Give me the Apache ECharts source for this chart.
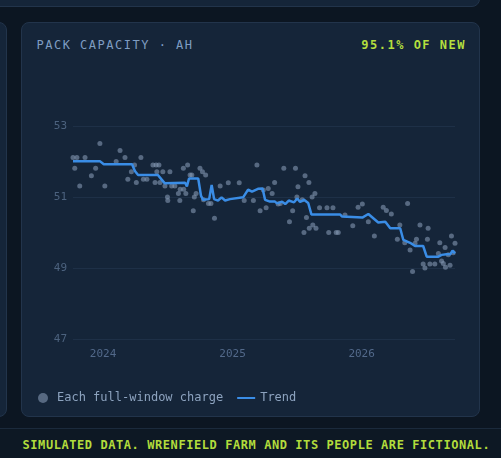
<!DOCTYPE html>
<html>
<head>
<meta charset="utf-8">
<script src="https://cdn.jsdelivr.net/npm/echarts@6/dist/echarts.min.js"></script>
<style>
  html, body { margin: 0; padding: 0; }
  body { width: 501px; height: 458px; background: #0c1622; position: relative; overflow: hidden; font-family: "DejaVu Sans Mono", monospace; }
  .card { position: absolute; box-sizing: border-box; background: #152539; border: 1px solid #22344b; border-radius: 8px; }
  .head { position: absolute; top: 38px; font-size: 12px; line-height: 14px; letter-spacing: 1.5px; white-space: nowrap; }
  #foot { position: absolute; left: 0; top: 428px; width: 501px; height: 30px; border-top: 1px solid #1b2a3c; background: #0d1824; }
  #foot span { position: absolute; left: 22.5px; top: 9px; font-size: 12px; line-height: 14px; letter-spacing: 0.57px; color: #b2dc3c; font-weight: bold; white-space: nowrap; }
  #main { position: absolute; left: 0; top: 0; width: 501px; height: 458px; }
</style>
</head>
<body>
<div class="card" style="left:-30px; top:-30px; width:510px; height:37px;"></div>
<div class="card" style="left:-200px; top:22px; width:207px; height:395px;"></div>
<div class="card" style="left:21px; top:22px; width:459px; height:395px;"></div>
<div class="head" style="left:36.5px; color:#7f9dc2;">PACK CAPACITY · AH</div>
<div class="head" style="right:35px; color:#b4df3e; font-weight:bold;">95.1% OF NEW</div>
<div id="foot"><span>SIMULATED DATA. WRENFIELD FARM AND ITS PEOPLE ARE FICTIONAL.</span></div>
<div id="main"></div>
<script>
// every full-window charge (date, measured capacity in Ah)
var chargeDates = [
  '2023-10-08', '2023-10-13', '2023-10-19', '2023-10-27', '2023-11-11', '2023-11-29', '2023-12-11', '2023-12-23',
  '2024-01-06', '2024-02-07', '2024-02-18', '2024-03-03', '2024-03-11', '2024-03-21', '2024-03-30', '2024-04-04',
  '2024-04-17', '2024-04-24', '2024-05-04', '2024-05-21', '2024-05-27', '2024-05-30', '2024-06-01', '2024-06-07',
  '2024-06-10', '2024-06-18', '2024-06-24', '2024-07-01', '2024-07-02', '2024-07-08', '2024-07-13', '2024-07-22',
  '2024-08-01', '2024-08-05', '2024-08-06', '2024-08-15', '2024-08-16', '2024-08-22', '2024-08-27', '2024-09-03',
  '2024-09-08', '2024-09-12', '2024-09-15', '2024-09-20', '2024-10-01', '2024-10-08', '2024-10-11', '2024-10-17',
  '2024-10-25', '2024-11-01', '2024-11-11', '2024-11-27', '2024-12-20', '2025-01-20', '2025-02-03', '2025-03-01',
  '2025-03-11', '2025-03-20', '2025-03-29', '2025-04-06', '2025-04-12', '2025-04-23', '2025-04-30', '2025-05-10',
  '2025-05-16', '2025-05-26', '2025-06-11', '2025-06-20', '2025-06-28', '2025-07-02', '2025-07-05', '2025-07-17',
  '2025-07-22', '2025-07-25', '2025-07-29', '2025-08-05', '2025-08-06', '2025-08-14', '2025-08-16', '2025-08-22',
  '2025-08-25', '2025-09-04', '2025-09-25', '2025-09-30', '2025-10-12', '2025-10-21', '2025-10-27', '2025-11-15',
  '2025-12-07', '2025-12-22', '2026-01-03', '2026-01-20', '2026-02-06', '2026-03-03', '2026-03-12', '2026-03-26',
  '2026-04-12', '2026-04-19', '2026-05-03', '2026-05-11', '2026-05-18', '2026-05-25', '2026-06-01', '2026-06-05',
  '2026-06-15', '2026-06-24', '2026-06-29', '2026-07-06', '2026-07-08', '2026-07-13', '2026-07-27', '2026-08-06',
  '2026-08-10', '2026-08-15', '2026-08-20', '2026-08-25', '2026-08-26', '2026-09-03', '2026-09-08', '2026-09-12',
  '2026-09-17', '2026-09-22'
];
var chargeAh = [
  52.11, 51.81, 52.11, 51.31, 52.11, 51.60, 51.81, 52.51,
  51.31, 52.00, 52.31, 52.11, 51.50, 51.71, 51.90, 51.41,
  52.11, 51.50, 51.50, 51.90, 51.41, 51.90, 51.71, 51.90,
  51.41, 51.71, 51.31, 51.00, 50.90, 51.71, 51.31, 51.31,
  51.10, 50.90, 51.22, 51.81, 51.22, 51.10, 51.90, 51.62,
  51.62, 50.61, 51.00, 51.10, 51.81, 51.71, 50.92, 51.62,
  50.82, 50.82, 50.40, 51.31, 51.40, 51.40, 50.90, 50.90,
  51.90, 50.61, 51.20, 50.70, 51.24, 51.10, 51.41, 50.80,
  50.82, 51.81, 50.30, 50.61, 51.81, 51.00, 51.29, 50.92,
  50.00, 51.60, 50.42, 51.41, 50.12, 51.00, 50.21, 51.10,
  50.12, 50.70, 50.70, 50.00, 50.70, 50.00, 50.00, 50.49,
  50.19, 50.71, 50.80, 50.30, 49.90, 50.71, 50.62, 50.52,
  49.81, 50.21, 49.71, 50.82, 49.51, 48.90, 49.70, 49.81,
  50.21, 49.11, 49.00, 49.81, 50.12, 49.11, 49.11, 49.41,
  49.71, 49.20, 49.13, 49.58, 49.02, 49.37, 49.08, 49.90,
  49.43, 49.70
];

// trend line
var trendDates = [
  '2023-10-08', '2023-12-23', '2024-01-03', '2024-03-23', '2024-03-31', '2024-04-09', '2024-06-04', '2024-06-13',
  '2024-06-23', '2024-08-20', '2024-08-25', '2024-08-31', '2024-09-26', '2024-10-04', '2024-10-10', '2024-10-27',
  '2024-11-03', '2024-11-10', '2024-11-21', '2024-12-01', '2024-12-11', '2024-12-25', '2025-01-31', '2025-02-14',
  '2025-02-25', '2025-03-14', '2025-03-27', '2025-04-03', '2025-04-17', '2025-05-01', '2025-05-07', '2025-05-21',
  '2025-05-30', '2025-06-09', '2025-06-24', '2025-07-03', '2025-07-11', '2025-07-22', '2025-08-03', '2025-08-12',
  '2025-11-01', '2025-11-07', '2026-01-03', '2026-01-20', '2026-02-17', '2026-03-09', '2026-03-23', '2026-04-20',
  '2026-04-29', '2026-05-18', '2026-06-01', '2026-06-24', '2026-07-04', '2026-08-06', '2026-08-15', '2026-08-29',
  '2026-09-09', '2026-09-15', '2026-09-22'
];
var trendAh = [
  52.01, 52.01, 51.92, 51.92, 51.73, 51.62, 51.62, 51.51,
  51.39, 51.40, 51.30, 51.52, 51.52, 51.03, 50.92, 50.94,
  51.34, 50.94, 50.90, 50.99, 50.90, 50.94, 50.99, 51.21,
  51.15, 51.23, 51.24, 50.92, 50.87, 50.87, 50.82, 50.87,
  50.80, 50.90, 50.85, 50.96, 50.86, 50.92, 50.83, 50.51,
  50.51, 50.45, 50.42, 50.52, 50.28, 50.30, 50.12, 50.12,
  49.79, 49.71, 49.62, 49.62, 49.32, 49.32, 49.37, 49.39,
  49.39, 49.49, 49.41
];

var yearTicks = ['2024-01-01', '2025-01-01', '2026-01-01'];
var yTicks = [47, 49, 51, 53];

// 'YYYY-MM-DD' -> local timestamp
function ts(s) {
  var p = s.split('-');
  return new Date(+p[0], +p[1] - 1, +p[2]).getTime();
}

var chart = echarts.init(document.getElementById('main'), null, { renderer: 'canvas' });

var mono = 'DejaVu Sans Mono';

var option = {
  backgroundColor: 'transparent',
  animation: false,
  grid: { left: 73, right: 46, top: 126, bottom: 119 },
  legend: {
    left: 33,
    top: 387,
    itemWidth: 18,
    itemHeight: 10,
    itemGap: 14,
    textStyle: { color: '#8da3bf', fontFamily: mono, fontSize: 12 },
    data: [
      { name: 'Each full-window charge', icon: 'circle' },
      { name: 'Trend', icon: 'path://M0,0 L18,0 L18,2 L0,2 Z' }
    ]
  },
  xAxis: {
    type: 'value',
    min: ts(chargeDates[0]),
    max: ts(chargeDates[chargeDates.length - 1]),
    axisLine: { show: false },
    axisTick: { show: false },
    splitLine: { show: false },
    axisLabel: {
      customValues: yearTicks.map(ts),
      formatter: function (v) { return String(new Date(v).getFullYear()); },
      color: '#52698a',
      fontFamily: mono,
      fontSize: 11,
      margin: 10
    }
  },
  yAxis: {
    type: 'value',
    min: yTicks[0],
    max: yTicks[yTicks.length - 1],
    interval: 2,
    axisLine: { show: false },
    axisTick: { show: false },
    splitLine: { lineStyle: { color: '#1e3047', width: 1 } },
    axisLabel: { color: '#4c627e', fontFamily: mono, fontSize: 11, margin: 6 }
  },
  series: [
    {
      name: 'Each full-window charge',
      type: 'scatter',
      symbolSize: 5,
      itemStyle: { color: 'rgba(132,152,178,0.75)' },
      data: chargeDates.map(function (d, i) { return [ts(d), chargeAh[i]]; }),
      z: 2
    },
    {
      name: 'Trend',
      type: 'line',
      showSymbol: false,
      symbol: 'none',
      itemStyle: { color: '#3a8de6' },
      lineStyle: { color: '#3a8de6', width: 2.5 },
      data: trendDates.map(function (d, i) { return [ts(d), trendAh[i]]; }),
      z: 3
    }
  ]
};

chart.setOption(option);
</script>
</body>
</html>
